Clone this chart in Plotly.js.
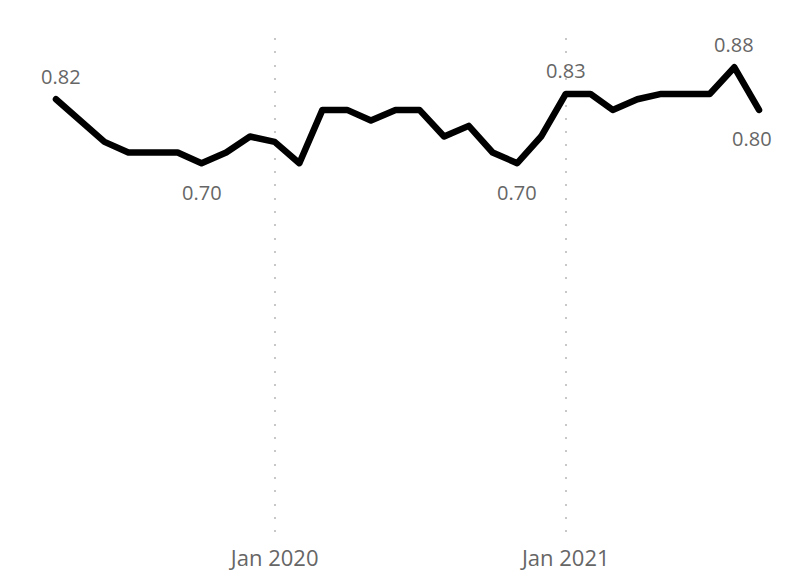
<!DOCTYPE html>
<html>
<head>
<meta charset="utf-8">
<script src="https://cdn.plot.ly/plotly-3.0.1.min.js"></script>
<style>
  html, body { margin: 0; padding: 0; background: #ffffff; }
  #chart { width: 807px; height: 586px; }
</style>
</head>
<body>
<div id="chart"></div>
<script>
// Monthly series, April 2019 – September 2021
const months = [
  '2019-04-01', '2019-05-01', '2019-06-01', '2019-07-01', '2019-08-01', '2019-09-01',
  '2019-10-01', '2019-11-01', '2019-12-01', '2020-01-01', '2020-02-01', '2020-03-01',
  '2020-04-01', '2020-05-01', '2020-06-01', '2020-07-01', '2020-08-01', '2020-09-01',
  '2020-10-01', '2020-11-01', '2020-12-01', '2021-01-01', '2021-02-01', '2021-03-01',
  '2021-04-01', '2021-05-01', '2021-06-01', '2021-07-01', '2021-08-01', '2021-09-01'
];
const values = [
  0.82, 0.78, 0.74, 0.72, 0.72, 0.72,
  0.70, 0.72, 0.75, 0.74, 0.70, 0.80,
  0.80, 0.78, 0.80, 0.80, 0.75, 0.77,
  0.72, 0.70, 0.75, 0.83, 0.83, 0.80,
  0.82, 0.83, 0.83, 0.83, 0.88, 0.80
];

// Points that carry a value label, and the side of the line it sits on
const labelledPoints = [0, 6, 19, 21, 28, 29];
const labelSides = ['above', 'below', 'below', 'above', 'above', 'below'];

// Year markers along the bottom
const tickValues = ['2020-01-01', '2021-01-01'];
const tickLabels = ['Jan 2020', 'Jan 2021'];

const labelColor = '#666666';
const labelFont = { family: 'Open Sans, sans-serif', size: 20, color: labelColor };

const annotations = labelledPoints.map((idx, k) => {
  const above = labelSides[k] === 'above';
  let xshift = 0;
  if (idx === 0) xshift = 5;
  if (idx === values.length - 1) xshift = -7;
  return {
    x: months[idx],
    y: values[idx],
    xref: 'x',
    yref: 'y',
    text: values[idx].toFixed(2),
    showarrow: false,
    xanchor: 'center',
    yanchor: 'middle',
    xshift: xshift,
    yshift: above ? 23 : -29,
    font: labelFont
  };
});

const trace = {
  type: 'scatter',
  mode: 'lines',
  x: months,
  y: values,
  line: { color: '#000000', width: 6.5, shape: 'linear' },
  hoverinfo: 'skip'
};

// a few days of room either side so the rounded line ends are not cut off
const layout = {
  width: 807,
  height: 586,
  margin: { l: 52, r: 44, t: 38, b: 50, pad: 0 },
  paper_bgcolor: '#ffffff',
  plot_bgcolor: '#ffffff',
  showlegend: false,
  xaxis: {
    type: 'date',
    range: ['2019-03-27', '2021-09-06'],
    tickmode: 'array',
    tickvals: tickValues,
    ticktext: tickLabels,
    ticks: '',
    ticklabelstandoff: 7,
    showline: false,
    zeroline: false,
    showgrid: true,
    gridcolor: '#c8c8c8',
    gridwidth: 2,
    griddash: '2px,11.3px',
    tickfont: { family: 'Open Sans, sans-serif', size: 22, color: labelColor },
    fixedrange: true
  },
  yaxis: {
    range: [0, 0.935],
    showgrid: false,
    zeroline: false,
    showline: false,
    showticklabels: false,
    ticks: '',
    fixedrange: true
  },
  annotations: annotations
};

Plotly.newPlot('chart', [trace], layout, { displayModeBar: false, staticPlot: true }).then(() => {
  document.querySelectorAll('#chart .scatterlayer .js-line').forEach(p => {
    p.style.strokeLinejoin = 'round';
    p.style.strokeLinecap = 'round';
  });
});
</script>
</body>
</html>
